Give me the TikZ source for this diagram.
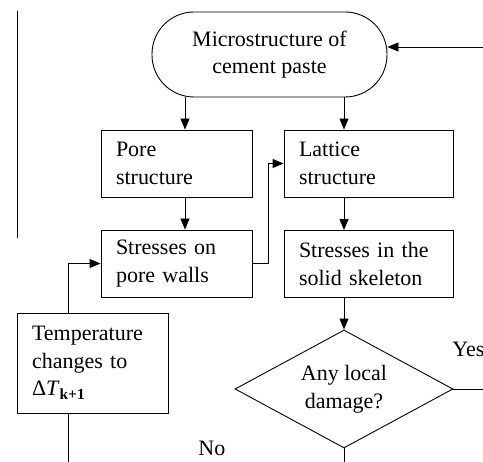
\documentclass[tikz,border=0pt]{standalone}
\usepackage{fontspec}
\setmainfont{Liberation Serif}
\usetikzlibrary{shapes.geometric, arrows.meta, positioning}

\begin{document}
\begin{tikzpicture}[
    x=1pt, y=-1pt,
    >={Triangle[length=11pt,width=9pt]},
    font=\fontsize{22}{27.5}\selectfont,
    line width=0.9pt,
    terminal/.style={rectangle, draw, rounded corners=42pt, minimum width=235pt, minimum height=85pt, align=center},
    block/.style={rectangle, draw, align=left, minimum height=67pt, inner xsep=15pt},
    decision/.style={diamond, draw, aspect=1.85, minimum width=218pt, minimum height=118pt, inner sep=0pt, align=center},
    arrow/.style={->}
]
\useasboundingbox (0,0) rectangle (483,462);

% Nodes
\node[terminal] (paste) at (269.5,54.5) {Microstructure of\\cement paste};
\node[block, text width=121pt] (pore) at (176.5,163.5) {Pore\\structure};
\node[block, text width=139pt] (lattice) at (368.5,163.5) {Lattice\\structure};
\node[block, text width=121pt] (porestress) at (176.5,263.5) {Stresses on\\pore walls};
\node[block, text width=139pt] (solidstress) at (368.5,264) {Stresses in the\\solid skeleton};
\node[block, text width=121pt, minimum height=100pt] (temp) at (92.5,363) {Temperature\\changes to\\Δ\textit{T}\textsubscript{\textbf{k+1}}};
\node[decision] (damage) at (344,389) {Any local\\damage?};
\node[anchor=west, inner sep=0pt] (yes) at (452,349) {Yes};
\node[anchor=west, inner sep=0pt] (no) at (198,448) {No};

% Free ends
\coordinate (lefttop) at (17,11);
\coordinate (leftbot) at (17,238);
\coordinate (loopin) at (483,47);
\coordinate (yesout) at (483,389);
\coordinate (noout) at (344,462);
\coordinate (tempout) at (68,462);

% Paths
\draw[arrow] ([xshift=8.5pt]pore.north |- paste.south) -- ([xshift=8.5pt]pore.north);
\draw[arrow] (damage.north |- paste.south) -- (damage.north |- lattice.north);
\draw[arrow] ([xshift=8.5pt]pore.south) -- ([xshift=8.5pt]porestress.north);
\draw[arrow] (damage.north |- lattice.south) -- (damage.north |- solidstress.north);
\draw[arrow] (solidstress.south -| damage.north) -- (damage.north);
\draw[arrow] (porestress.east) -- ++(16,0) |- (lattice.west);
\draw[arrow] ([xshift=-24.5pt]temp.north) |- (porestress.west);
\draw ([xshift=-24.5pt]temp.south) -- (tempout);

% Loop back and outgoing branches
\draw[arrow] (loopin) -- (loopin -| paste.east);
\draw (damage.east) -- (yesout);
\draw (damage.south) -- (noout);
\draw (lefttop) -- (leftbot);

\end{tikzpicture}
\end{document}
